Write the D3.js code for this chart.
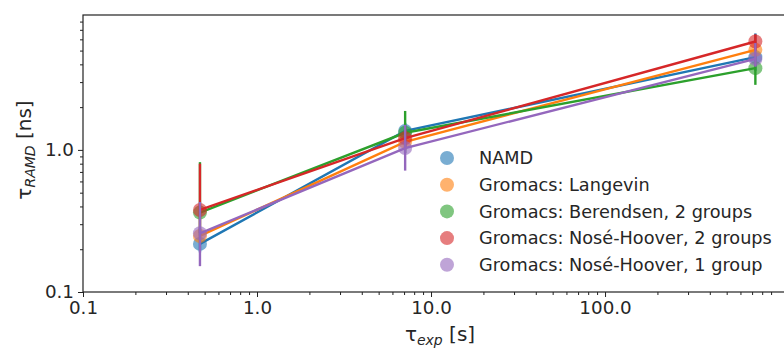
<!DOCTYPE html>
<html>
<head>
<meta charset="utf-8">
<script src="https://cdn.jsdelivr.net/npm/d3@7"></script>
<style>
  body { margin: 0; background: white; }
  text { font-family: "DejaVu Sans", sans-serif; fill: #262626; }
</style>
</head>
<body>
<script>
// data
var tauExp = [0.47, 7.1, 731];
var seriesNames = ["NAMD", "Gromacs: Langevin", "Gromacs: Berendsen, 2 groups",
	"Gromacs: Nosé-Hoover, 2 groups", "Gromacs: Nosé-Hoover, 1 group"];
var seriesColors = ["#1f77b4", "#ff7f0e", "#2ca02c", "#d62728", "#9467bd"];
var tauRamd = [
	[0.218, 1.36, 4.50],
	[0.248, 1.14, 5.06],
	[0.362, 1.32, 3.76],
	[0.378, 1.21, 5.79],
	[0.259, 1.03, 4.37]
];
var errLow = [
	[0.19, 1.20, 3.60],
	[0.22, 1.00, 4.50],
	[0.25, 0.95, 2.87],
	[0.26, 1.05, 5.00],
	[0.152, 0.715, 3.85]
];
var errHigh = [
	[0.25, 1.55, 6.60],
	[0.28, 1.30, 5.60],
	[0.82, 1.88, 4.60],
	[0.80, 1.40, 6.50],
	[0.43, 1.50, 5.65]
];
var xMajor = [0.1, 1, 10, 100];
var xMajorLabels = ["0.1", "1.0", "10.0", "100.0"];
var yMajor = [0.1, 1];
var yMajorLabels = ["0.1", "1.0"];

var W = 784, H = 349;
var margin = { top: 15, right: -13, bottom: 57, left: 83 },
	width = W - margin.left - margin.right,
	height = H - margin.top - margin.bottom;

var svg = d3.select("body").append("svg")
	.attr("width", W)
	.attr("height", H)
	.style("display", "block")
	.style("overflow", "hidden");

var g = svg.append("g")
	.attr("transform", "translate(" + margin.left + "," + margin.top + ")");

var x = d3.scaleLog().domain([0.1, 1268]).range([0, width]);
var y = d3.scaleLog().domain([0.1, 8.9]).range([height, 0]);

// minor ticks
var xMinor = [];
xMajor.concat([1000]).forEach(function (m) {
	for (var k = 2; k <= 9; k++) if (m * k <= 1268) xMinor.push(m * k);
});
var yMinor = [];
yMajor.forEach(function (m) {
	for (var k = 2; k <= 9; k++) if (m * k <= 8.9) yMinor.push(m * k);
});

var fontSize = 18.3;

// x axis
g.append("g").attr("transform", "translate(0," + height + ")")
	.call(d3.axisBottom(x).tickValues(xMajor).tickFormat(function (d, i) { return xMajorLabels[i]; })
		.tickSize(5).tickPadding(4));
g.append("g").attr("transform", "translate(0," + height + ")")
	.call(d3.axisBottom(x).tickValues(xMinor).tickFormat("").tickSize(3))
	.select(".domain").remove();

// y axis
g.append("g")
	.call(d3.axisLeft(y).tickValues(yMajor).tickFormat(function (d, i) { return yMajorLabels[i]; })
		.tickSize(5).tickPadding(4));
g.append("g")
	.call(d3.axisLeft(y).tickValues(yMinor).tickFormat("").tickSize(3))
	.select(".domain").remove();

g.selectAll(".domain").attr("d", null);
g.selectAll(".tick line").attr("stroke", "#222").attr("stroke-width", 1);
g.selectAll(".tick text").style("font-size", fontSize + "px").style("font-family", "DejaVu Sans").attr("fill", "#262626");

// frame
g.append("rect")
	.attr("x", 0).attr("y", 0)
	.attr("width", width).attr("height", height)
	.attr("fill", "none")
	.attr("stroke", "#222")
	.attr("stroke-width", 1.2);

// series
var line = d3.line()
	.x(function (d) { return x(d[0]); })
	.y(function (d) { return y(d[1]); });

seriesNames.forEach(function (name, s) {
	var pts = tauExp.map(function (t, i) { return [t, tauRamd[s][i]]; });
	var col = seriesColors[s];
	g.selectAll(".err" + s)
		.data(tauExp)
		.enter().append("line")
		.attr("x1", function (d) { return x(d); })
		.attr("x2", function (d) { return x(d); })
		.attr("y1", function (d, i) { return y(errLow[s][i]); })
		.attr("y2", function (d, i) { return y(errHigh[s][i]); })
		.attr("stroke", col)
		.attr("stroke-width", 2.4);
	g.append("path")
		.datum(pts)
		.attr("d", line)
		.attr("fill", "none")
		.attr("stroke", col)
		.attr("stroke-width", 2.4);
	g.selectAll(".dot" + s)
		.data(pts)
		.enter().append("circle")
		.attr("cx", function (d) { return x(d[0]); })
		.attr("cy", function (d) { return y(d[1]); })
		.attr("r", 7)
		.attr("fill", col)
		.attr("fill-opacity", 0.6);
});

// legend
var legend = g.append("g").attr("transform", "translate(" + (447 - margin.left) + "," + (158 - margin.top) + ")");
seriesNames.forEach(function (name, s) {
	var row = legend.append("g").attr("transform", "translate(0," + (s * 26.7) + ")");
	row.append("circle").attr("r", 7).attr("fill", seriesColors[s]).attr("fill-opacity", 0.6);
	row.append("text")
		.attr("x", 32)
		.attr("dy", "0.36em")
		.style("font-size", "17.7px")
		.text(name);
});

// axis labels
var xl = svg.append("text")
	.attr("x", 440)
	.attr("y", 341)
	.attr("text-anchor", "middle")
	.style("font-size", "20px");
xl.append("tspan").text("τ");
xl.append("tspan").attr("dy", 4).style("font-size", "14px").style("font-style", "italic").text("exp");
xl.append("tspan").attr("dy", -4).text(" [s]");

var yl = svg.append("text")
	.attr("transform", "translate(31,150) rotate(-90)")
	.attr("text-anchor", "middle")
	.style("font-size", "20px");
yl.append("tspan").text("τ");
yl.append("tspan").attr("dy", 4).style("font-size", "14px").style("font-style", "italic").text("RAMD");
yl.append("tspan").attr("dy", -4).text(" [ns]");
</script>
</body>
</html>
